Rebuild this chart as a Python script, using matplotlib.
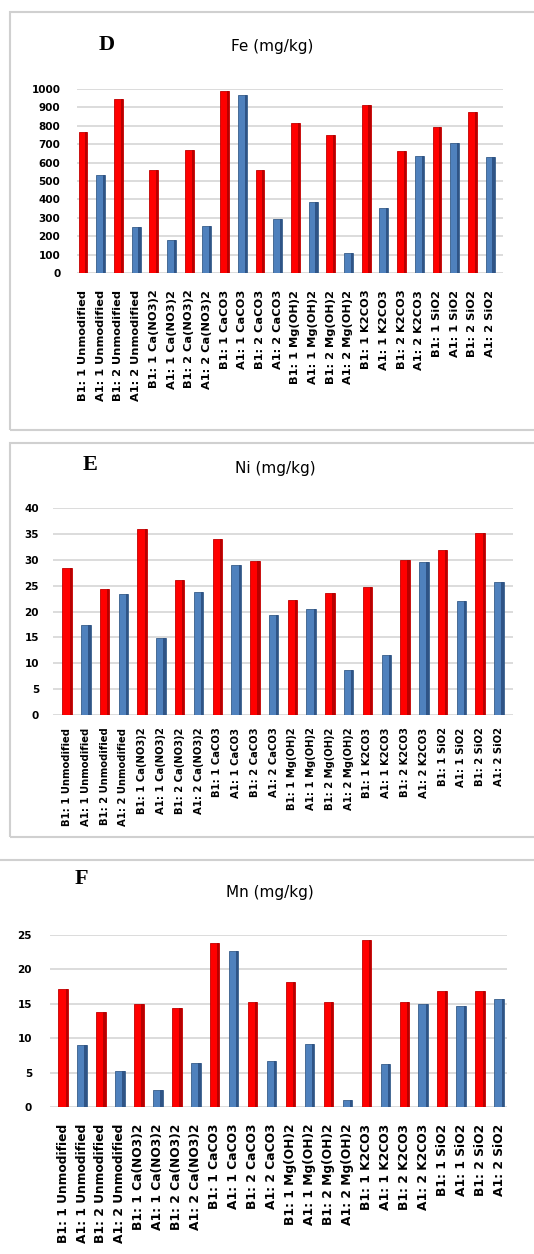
import matplotlib
matplotlib.use("Agg")
import matplotlib.pyplot as plt
from matplotlib.patches import Rectangle

categories = ["B1: 1 Unmodified", "A1: 1 Unmodified", "B1: 2 Unmodified", "A1: 2 Unmodified",
              "B1: 1 Ca(NO3)2", "A1: 1 Ca(NO3)2", "B1: 2 Ca(NO3)2", "A1: 2 Ca(NO3)2",
              "B1: 1 CaCO3", "A1: 1 CaCO3", "B1: 2 CaCO3", "A1: 2 CaCO3",
              "B1: 1 Mg(OH)2", "A1: 1 Mg(OH)2", "B1: 2 Mg(OH)2", "A1: 2 Mg(OH)2",
              "B1: 1 K2CO3", "A1: 1 K2CO3", "B1: 2 K2CO3", "A1: 2 K2CO3",
              "B1: 1 SiO2", "A1: 1 SiO2", "B1: 2 SiO2", "A1: 2 SiO2"]

fe_values = [765, 530, 945, 250, 562, 180, 668, 255, 990, 965, 560, 295,
             815, 385, 750, 110, 915, 355, 665, 638, 795, 708, 875, 632]
ni_values = [28.5, 17.3, 24.4, 23.4, 36.0, 14.8, 26.1, 23.8, 34.0, 29.0, 29.8, 19.4,
             22.3, 20.5, 23.5, 8.6, 24.7, 11.5, 30.0, 29.5, 31.8, 22.0, 35.2, 25.7]
mn_values = [17.2, 9.0, 13.8, 5.2, 14.9, 2.5, 14.4, 6.4, 23.8, 22.7, 15.3, 6.7,
             18.1, 9.2, 15.3, 1.0, 24.3, 6.3, 15.3, 14.9, 16.9, 14.7, 16.9, 15.7]

fe_ticks = list(range(0, 1001, 100))
ni_ticks = list(range(0, 41, 5))
mn_ticks = list(range(0, 26, 5))

W, H = 534, 1254
RED, RED_E, RED_S = "#FF0000", "#C00000", "#B80000"
BLUE, BLUE_E, BLUE_S = "#4F81BD", "#385D8A", "#2F5486"

fig = plt.figure(figsize=(W / 100, H / 100), dpi=100)
fig.patch.set_facecolor("white")

def fbox(x0, y0, x1, y1):
    fig.patches.append(Rectangle((x0 / W, 1 - y1 / H), (x1 - x0) / W, (y1 - y0) / H,
                                 transform=fig.transFigure, fill=False,
                                 edgecolor="#d0d0d0", linewidth=1.5))

fbox(10, 12, 540, 430)
fbox(10, 443, 540, 837)
fbox(-5, 860, 540, 1270)

def panel(vals, ticks, x0, x1, y_top, y0, xl, xr, ypad, xpad, xfs,
          letter, lpos, title, tpos):
    ax = fig.add_axes([x0 / W, 1 - y0 / H, (x1 - x0) / W, (y0 - y_top) / H])
    xs = list(range(len(categories)))
    isb = [c.startswith("B1") for c in categories]
    colors = [RED if b else BLUE for b in isb]
    edges = [RED_E if b else BLUE_E for b in isb]
    shades = [RED_S if b else BLUE_S for b in isb]
    ax.bar(xs, vals, width=0.5, color=colors, edgecolor=edges, linewidth=0.6, zorder=3)
    # darker right side to mimic the 3-D column look
    ax.bar([x + 0.19 for x in xs], vals, width=0.12, color=shades, linewidth=0, zorder=4)
    ax.set_ylim(0, ticks[-1])
    ax.set_xlim(xl, xr)
    ax.set_yticks(ticks)
    ax.set_yticklabels([str(t) for t in ticks], fontsize=7.5, fontweight="bold")
    ax.set_xticks(xs)
    ax.set_xticklabels(categories, rotation=90, fontsize=xfs, fontweight="bold",
                       va="top", ha="center")
    ax.tick_params(axis="y", length=0, pad=ypad)
    ax.tick_params(axis="x", length=0, pad=xpad)
    ax.grid(axis="y", color="#d9d9d9", linewidth=1.3, zorder=0)
    ax.set_axisbelow(True)
    for s in ax.spines.values():
        s.set_visible(False)
    ax.patch.set_alpha(0)
    fig.text(lpos[0] / W, 1 - lpos[1] / H, letter, family="Liberation Serif",
             fontweight="bold", fontsize=16, ha="center", va="center")
    fig.text(tpos[0] / W, 1 - tpos[1] / H, title, fontsize=11, ha="center", va="center")
    return ax

panel(fe_values, fe_ticks, 77, 503, 89, 273, -0.34, 23.73, 12, 12, 8.2,
      "D", (107, 45), "Fe (mg/kg)", (272, 47))
panel(ni_values, ni_ticks, 53, 513, 508, 715, -0.75, 23.75, 10, 9, 7.2,
      "E", (90, 465), "Ni (mg/kg)", (275, 469))
panel(mn_values, mn_ticks, 50, 507, 935, 1107, -0.69, 23.42, 13, 12, 8.8,
      "F", (81, 879), "Mn (mg/kg)", (270, 892))

fig.savefig("out.png", dpi=100)
